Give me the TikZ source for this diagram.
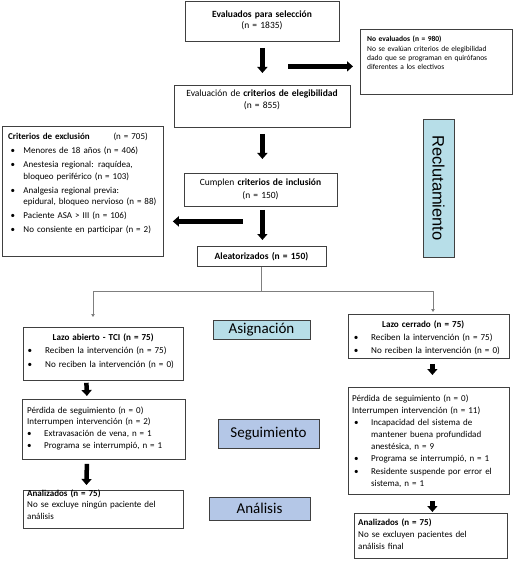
\documentclass[tikz,border=0pt]{standalone}
\usepackage{fontspec}
\setmainfont{Carlito}
\newfontfamily\arialf{Liberation Sans}
\usetikzlibrary{arrows.meta,calc}
\definecolor{boxline}{HTML}{404040}
\definecolor{connline}{HTML}{7F7F7F}
\definecolor{cyanfill}{HTML}{B7DEE8}
\definecolor{bluefill}{HTML}{B4C7E7}
\newcommand{\fs}[2]{\fontsize{#1}{#2}\selectfont}
\newcommand{\bulpre}{0pt}
\newcommand{\bulind}{16pt}
\newcommand{\itemgap}{1.5pt}
\newcommand{\bul}[1]{\par\vskip\itemgap\hangindent=\bulind\hangafter=1\noindent\makebox[\bulind][l]{\hspace{\bulpre}\textbullet}#1\par}
\tikzset{
  frame/.style={draw=boxline, line width=0.8pt, fill=white, rectangle, inner sep=0pt, anchor=north west},
  txt/.style={inner sep=0pt, anchor=base west, align=left},
  ctxt/.style={inner sep=0pt, anchor=base, align=center},
  barrow/.style={line width=4.5pt, -{Triangle[width=10pt,length=6pt]}},
  conn/.style={draw=connline, line width=0.9pt},
  conntip/.style={-{Triangle[width=3.5pt,length=3pt]}},
  sidecyan/.style={draw=boxline, line width=0.8pt, fill=cyanfill, inner sep=0pt},
  sideblue/.style={draw=boxline, line width=0.8pt, fill=bluefill, inner sep=0pt},
}
\begin{document}
\begin{tikzpicture}[x=1pt,y=-1pt]
\useasboundingbox (0,0) rectangle (514,561);
% frames
\node[frame, minimum width=154, minimum height=40] (sel) at (185,1) {};
\node[frame, minimum width=152, minimum height=65] (noev) at (360,29) {};
\node[frame, minimum width=176, minimum height=42] (eleg) at (174,85) {};
\node[frame, minimum width=161, minimum height=130] (excl) at (2,126) {};
\node[frame, minimum width=153, minimum height=33] (incl) at (184,173) {};
\node[frame, minimum width=129, minimum height=20] (alea) at (197,246) {};
\node[frame, minimum width=160, minimum height=53] (lazoA) at (23,327) {};
\node[frame, minimum width=161, minimum height=44] (lazoC) at (348,314) {};
\node[frame, minimum width=163, minimum height=60] (perdA) at (22,399) {};
\node[frame, minimum width=161, minimum height=107] (perdC) at (348,387) {};
\node[frame, minimum width=160, minimum height=38] (analA) at (23,490) {};
\node[frame, minimum width=153, minimum height=45] (analC) at (354,513) {};
% side labels
\node[sidecyan, rotate=-90, minimum width=138, minimum height=31, font=\arialf\fs{16.5}{18}] (recl) at (438.5,188) {Reclutamiento};
\node[sidecyan, minimum width=97, minimum height=19, font=\fs{15}{17}] (asig) at (261.5,329.5) {Asignación};
\node[sideblue, minimum width=101, minimum height=29, font=\fs{15}{17}] (segu) at (268.5,433.5) {Seguimiento};
\node[sideblue, minimum width=101, minimum height=23, font=\fs{15}{17}] (anal) at (259.5,508.5) {Análisis};
% texts
\node[ctxt, text width=150, font=\fs{9.5}{11}] (tsel) at (262,17.5) {\textbf{Evaluados para selección}\\(n = 1835)};
\node[txt, text width=145, font=\fs{7.5}{9.3}] (tnoev) at (367,42) {\textbf{No evaluados (n = 980)}\\No se evalúan criterios de elegibilidad\\dado que se programan en quirófanos\\diferentes a los electivos};
\node[ctxt, text width=172, font=\fs{9.5}{12.4}] (teleg) at (262,96.5) {Evaluación de \textbf{criterios de elegibilidad}\\(n = 855)};
\node[txt, text width=158, font=\fs{9}{11.7}] (texcl) at (8,139.5) {\renewcommand{\bulpre}{2.4pt}\renewcommand{\bulind}{15.3pt}\renewcommand{\itemgap}{2.3pt}%
\makebox[105.3pt][l]{\textbf{Criterios de exclusión}}(n = 705)%
\bul{Menores de 18 años (n = 406)}%
\bul{Anestesia regional: raquídea,\newline bloqueo periférico (n = 103)}%
\bul{Analgesia regional previa:\newline epidural, bloqueo nervioso (n = 88)}%
\bul{Paciente ASA > III (n = 106)}%
\bul{No consiente en participar (n = 2)}};
\node[ctxt, text width=150, font=\fs{9.5}{12.7}] (tincl) at (260.5,185.5) {Cumplen \textbf{criterios de inclusión}\\(n = 150)};
\node[ctxt, text width=125, font=\fs{9.5}{11}] (talea) at (261.5,259.5) {\textbf{Aleatorizados (n = 150)}};
\node[txt, text width=151, font=\fs{9.1}{11.7}] (tlazoA) at (27.5,340.6) {\renewcommand{\bulpre}{0pt}\renewcommand{\bulind}{17.5pt}%
\centerline{\textbf{Lazo abierto - TCI (n = 75)}}%
\bul{Reciben la intervención (n = 75)}%
\bul{No reciben la intervención (n = 0)}};
\node[txt, text width=156, font=\fs{9.1}{11.7}] (tlazoC) at (352,327.3) {\renewcommand{\bulpre}{1.7pt}\renewcommand{\bulind}{19pt}%
\makebox[142pt][c]{\textbf{Lazo cerrado (n = 75)}}%
\bul{Reciben la intervención (n = 75)}%
\bul{No reciben la intervención (n = 0)}};
\node[txt, text width=155, font=\fs{9}{11.7}] (tperdA) at (27,413) {\renewcommand{\bulpre}{0pt}\renewcommand{\bulind}{17pt}\renewcommand{\itemgap}{0pt}%
Pérdida de seguimiento (n = 0)\newline Interrumpen intervención (n = 2)%
\bul{Extravasación de vena, n = 1}%
\bul{Programa se interrumpió, n = 1}};
\node[txt, text width=155, font=\fs{9}{11.8}] (tperdC) at (352,401.6) {\renewcommand{\bulpre}{2pt}\renewcommand{\bulind}{19pt}\renewcommand{\itemgap}{0.6pt}%
Pérdida de seguimiento (n = 0)\newline Interrumpen intervención (n = 11)%
\bul{Incapacidad del sistema de\newline mantener buena profundidad\newline anestésica, n = 9}%
\bul{Programa se interrumpió, n = 1}%
\bul{Residente suspende por error el\newline sistema, n = 1}};
\node[txt, text width=155, font=\fs{9}{11.5}] (tanalA) at (27,496.3) {\textbf{Analizados (n = 75)}\newline No se excluye ningún paciente del\newline análisis};
\node[txt, text width=148, font=\fs{9}{11.7}] (tanalC) at (358,525.6) {\textbf{Analizados (n = 75)}\newline No se excluyen pacientes del\newline análisis final};
% block arrows
\draw[barrow] ([yshift=-6pt]sel.south) -- ([yshift=12pt]eleg.north);
\draw[barrow] ($(noev.west)+(-72,4.5)$) -- ($(noev.west)+(-7,4.5)$);
\draw[barrow] ([yshift=-6pt]eleg.south) -- ([xshift=1.5pt,yshift=14pt]incl.north);
\draw[barrow] ($(excl.east)+(79,30)$) -- ($(excl.east)+(9,30)$);
\draw[barrow] ([xshift=1.5pt,yshift=-3pt]incl.south) -- ([xshift=0.5pt,yshift=6pt]alea.north);
\draw[barrow] ([xshift=-17pt,yshift=-2pt]lazoA.south) -- ([xshift=-17pt,yshift=3pt]perdA.north);
\draw[barrow] ([xshift=3.5pt,yshift=-5pt]lazoC.south) -- ([xshift=3.5pt,yshift=12pt]perdC.north);
\draw[barrow] ([xshift=-17pt,yshift=-4pt]perdA.south) -- ([xshift=-17pt,yshift=5pt]analA.north);
\draw[barrow] ([xshift=3.5pt,yshift=-6pt]perdC.south) -- ([xshift=1.5pt,yshift=1pt]analC.north);
% thin connectors
\coordinate (split) at (alea.south |- 0,291);
\coordinate (tipA) at (93,317);
\coordinate (tipB) at (433,312);
\draw[conn] (alea.south) -- (split);
\draw[conn, conntip] (split) -| (tipA);
\draw[conn, conntip] (split) -| (tipB);
\end{tikzpicture}
\end{document}
